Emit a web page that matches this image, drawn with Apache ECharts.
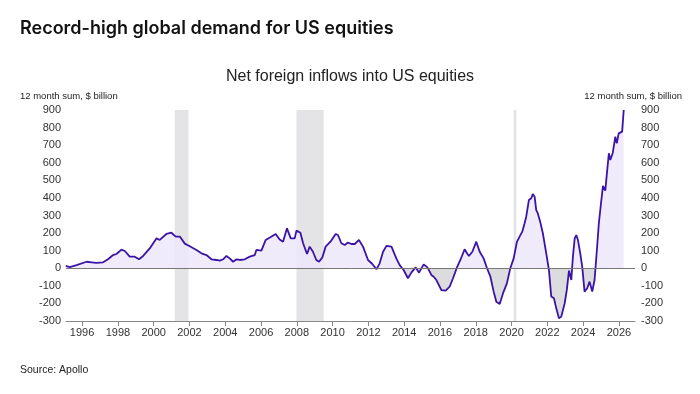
<!DOCTYPE html>
<html>
<head>
<meta charset="utf-8">
<script src="https://cdn.jsdelivr.net/npm/echarts@6/dist/echarts.min.js"></script>
<style>
  html, body { margin: 0; padding: 0; background: #fff; }
  #chart { width: 700px; height: 394px; }
</style>
</head>
<body>
<div id="chart"></div>
<script>
// data (decimal year, 12 month sum in $ billion)
const years = [
  1995.09, 1995.31, 1995.69, 1996.25, 1996.53, 1996.8, 1997.17, 1997.45, 1997.73, 1997.92,
  1998.2, 1998.39, 1998.66, 1998.94, 1999.18, 1999.41, 1999.78, 2000.16, 2000.34, 2000.71,
  2000.99, 2001.23, 2001.46, 2001.74, 2002.02, 2002.39, 2002.67, 2002.95, 2003.23, 2003.51,
  2003.7, 2003.88, 2004.07, 2004.25, 2004.44, 2004.63, 2004.81, 2005.09, 2005.37, 2005.65,
  2005.74, 2006.02, 2006.26, 2006.52, 2006.82, 2007.04, 2007.23, 2007.45, 2007.66, 2007.88,
  2007.98, 2008.2, 2008.35, 2008.57, 2008.72, 2008.9, 2009.09, 2009.24, 2009.43, 2009.61,
  2009.88, 2010.17, 2010.3, 2010.49, 2010.68, 2010.86, 2011.05, 2011.24, 2011.47, 2011.7,
  2011.98, 2012.22, 2012.45, 2012.63, 2012.82, 2013.01, 2013.29, 2013.56, 2013.75, 2013.97,
  2014.21, 2014.4, 2014.64, 2014.83, 2015.09, 2015.3, 2015.52, 2015.65, 2015.8, 2016.08,
  2016.32, 2016.54, 2016.73, 2016.95, 2017.14, 2017.38, 2017.51, 2017.62, 2017.81, 2018.03,
  2018.22, 2018.44, 2018.63, 2018.82, 2019.0, 2019.15, 2019.34, 2019.52, 2019.74, 2019.93,
  2020.12, 2020.3, 2020.45, 2020.6, 2020.73, 2020.82, 2020.97, 2021.1, 2021.19, 2021.29,
  2021.38, 2021.47, 2021.6, 2021.75, 2021.94, 2022.09, 2022.22, 2022.37, 2022.5, 2022.65,
  2022.78, 2022.97, 2023.09, 2023.21, 2023.34, 2023.43, 2023.53, 2023.62, 2023.71, 2023.84,
  2023.95, 2024.08, 2024.23, 2024.36, 2024.51, 2024.64, 2024.77, 2024.88, 2025.02, 2025.11,
  2025.24, 2025.33, 2025.44, 2025.52, 2025.66, 2025.8, 2025.88, 2025.99, 2026.18, 2026.27
];
const inflows = [
  13, 7, 18, 37, 34, 30, 34, 51, 75, 81,
  106, 98, 66, 66, 51, 70, 113, 170, 161, 195,
  202, 180, 180, 140, 125, 104, 85, 75, 51, 47,
  43, 51, 70, 56, 37, 51, 47, 51, 66, 75,
  104, 100, 161, 176, 195, 164, 151, 227, 170, 170,
  214, 202, 142, 81, 123, 94, 47, 37, 62, 123,
  151, 195, 189, 142, 132, 146, 138, 138, 161, 123,
  47, 24, -6, 28, 94, 127, 123, 56, 18, -10,
  -57, -25, 5, -25, 22, 5, -38, -48, -67, -124,
  -127, -105, -57, 5, 47, 108, 85, 70, 94, 151,
  94, 56, 0, -48, -133, -190, -203, -143, -86, 0,
  56, 150, 180, 208, 256, 293, 388, 398, 422, 407,
  331, 312, 265, 199, 85, -10, -161, -171, -228, -285,
  -275, -199, -123, -14, -67, 66, 170, 189, 161, 85,
  9, -133, -114, -76, -133, -67, 104, 256, 388, 468,
  441, 540, 654, 616, 657, 748, 710, 767, 777, 900
];
// recession bands [start, end]
const recessions = [[2001.18, 2001.95], [2007.98, 2009.5], [2020.12, 2020.27]];
const tickYears = [1996, 1998, 2000, 2002, 2004, 2006, 2008, 2010, 2012, 2014, 2016, 2018, 2020, 2022, 2024, 2026];

const chart = echarts.init(document.getElementById('chart'));

const seriesData = years.map((y, i) => [y, inflows[i]]);
const labelFont = 'Liberation Sans';

const yAxisBase = {
  type: 'value',
  min: -300,
  max: 900,
  interval: 100,
  axisLine: { show: false },
  axisTick: { show: false },
  splitLine: { show: false }
};

const option = {
  backgroundColor: '#ffffff',
  animation: false,
  title: [
    {
      text: 'Record-high global demand for US equities',
      left: 20,
      top: 20,
      padding: 0,
      textStyle: { fontFamily: 'Inter', fontWeight: 600, fontSize: 18, color: '#111', letterSpacing: -0.7 }
    },
    {
      text: 'Net foreign inflows into US equities',
      left: 'center',
      top: 69,
      padding: 0,
      textStyle: { fontFamily: labelFont, fontWeight: 'normal', fontSize: 16, color: '#222' }
    },
    {
      text: '12 month sum, $ billion',
      left: 20,
      top: 91,
      padding: 0,
      textStyle: { fontFamily: labelFont, fontWeight: 'normal', fontSize: 9.5, color: '#222' }
    },
    {
      text: '12 month sum, $ billion',
      right: 18,
      top: 91,
      padding: 0,
      textStyle: { fontFamily: labelFont, fontWeight: 'normal', fontSize: 9.5, color: '#222' }
    },
    {
      text: 'Source: Apollo',
      left: 20,
      top: 365,
      padding: 0,
      textStyle: { fontFamily: labelFont, fontWeight: 'normal', fontSize: 10.5, color: '#222' }
    }
  ],
  grid: { left: 66, right: 65, top: 110, bottom: 73 },
  xAxis: {
    type: 'value',
    min: 1995.1,
    max: 2026.9,
    splitLine: { show: false },
    axisLine: { onZero: false, lineStyle: { color: '#888', width: 1 } },
    axisTick: { customValues: tickYears, length: 5, lineStyle: { color: '#888' } },
    axisLabel: {
      customValues: tickYears,
      formatter: v => String(v),
      fontFamily: labelFont,
      fontSize: 11,
      color: '#333',
      margin: 6
    }
  },
  yAxis: [
    Object.assign({}, yAxisBase, {
      position: 'left',
      axisLabel: { fontFamily: labelFont, fontSize: 11, color: '#333', margin: 5 }
    }),
    Object.assign({}, yAxisBase, {
      position: 'right',
      axisLabel: { fontFamily: labelFont, fontSize: 11, color: '#333', margin: 6 }
    })
  ],
  visualMap: {
    show: false,
    type: 'piecewise',
    seriesIndex: 1,
    dimension: 1,
    pieces: [
      { gt: 0, lte: 2000, color: '#eee8fb' },
      { gt: -2000, lte: 0, color: '#d6d6d8' }
    ]
  },
  series: [
    {
      // recession shading
      type: 'line',
      data: [],
      z: 1,
      markArea: {
        silent: true,
        itemStyle: { color: '#e4e4e7' },
        data: recessions.map(r => [{ xAxis: r[0] }, { xAxis: r[1] }])
      }
    },
    {
      name: 'Net foreign inflows',
      type: 'line',
      data: seriesData,
      z: 3,
      showSymbol: false,
      smooth: false,
      lineStyle: { color: '#3a14a6', width: 1.8 },
      areaStyle: { opacity: 0.85, origin: 0 },
      markLine: {
        silent: true,
        symbol: 'none',
        label: { show: false },
        lineStyle: { color: '#777', width: 1, type: 'solid' },
        data: [{ yAxis: 0 }]
      }
    }
  ]
};

chart.setOption(option);
</script>
</body>
</html>
